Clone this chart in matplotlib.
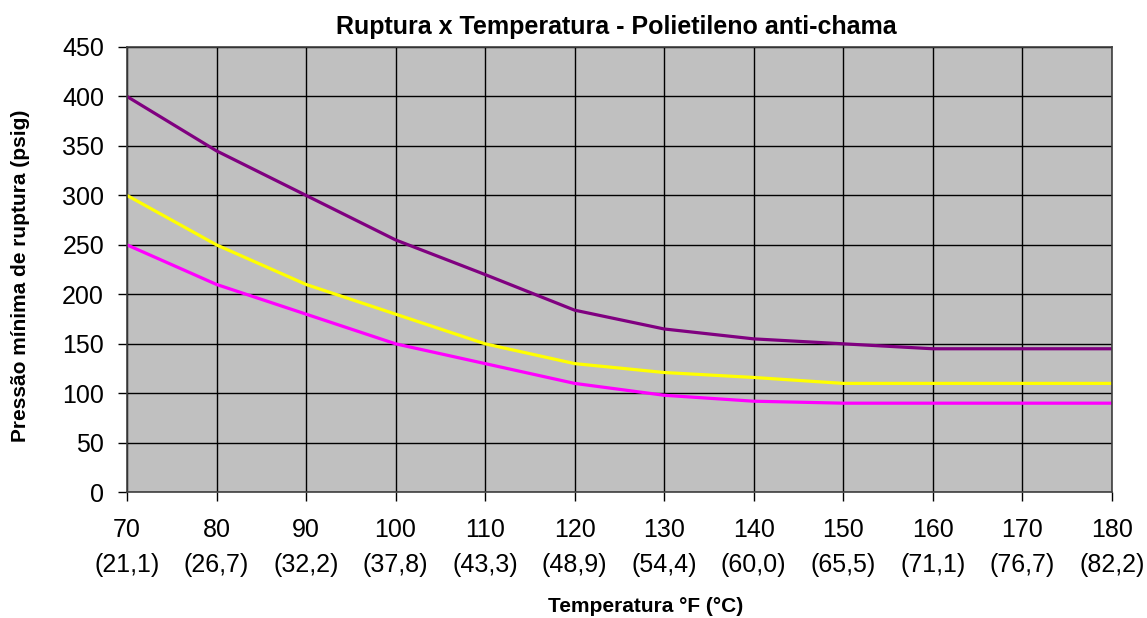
import matplotlib.pyplot as plt

plt.rcParams['font.family'] = ['Liberation Sans', 'DejaVu Sans']

# Temperaturas (°F) e equivalentes em °C
temp_f = [70, 80, 90, 100, 110, 120, 130, 140, 150, 160, 170, 180]
temp_c = ['21,1', '26,7', '32,2', '37,8', '43,3', '48,9', '54,4', '60,0',
          '65,5', '71,1', '76,7', '82,2']

# Pressão mínima de ruptura (psig) para cada série
serie_roxa = [400, 345, 300, 255, 220, 184, 165, 155, 150, 145, 145, 145]
serie_amarela = [300, 250, 210, 180, 150, 130, 121, 116, 110, 110, 110, 110]
serie_magenta = [250, 210, 180, 150, 130, 110, 98, 92, 90, 90, 90, 90]

fig = plt.figure(figsize=(11.47, 6.18), dpi=100)
ax = fig.add_axes([0.1107, 0.2035, 0.8586, 0.7205])
ax.set_facecolor('#C0C0C0')

ax.plot(temp_f, serie_roxa, color='#800080', lw=2.3)
ax.plot(temp_f, serie_amarela, color='#FFFF00', lw=2.3)
ax.plot(temp_f, serie_magenta, color='#FF00FF', lw=2.3)

ax.set_xlim(70, 180)
ax.set_ylim(0, 450)
ax.set_yticks(range(0, 451, 50))
ax.set_xticks(temp_f)
ax.set_xticklabels([f'{f}\n({c})' for f, c in zip(temp_f, temp_c)],
                   linespacing=1.6)

ax.grid(True, color='black', lw=1)
ax.set_axisbelow(True)
for s in ax.spines.values():
    s.set_color('#404040')
    s.set_linewidth(1.2)

ax.tick_params(axis='both', direction='out', length=6.5, width=1,
               labelsize=18, color='black')
ax.tick_params(axis='x', pad=12)
ax.tick_params(axis='y', pad=10)

# Título e rótulos dos eixos
fig.text(0.537, 1 - 27 / 618, 'Ruptura x Temperatura - Polietileno anti-chama',
         fontsize=18, fontweight='bold', ha='center', va='center')
fig.text(21 / 1147, 1 - 276 / 618, 'Pressão mínima de ruptura (psig)',
         fontsize=15, fontweight='bold', rotation=90,
         ha='center', va='center')
fig.text(646 / 1147, 1 - 607 / 618, 'Temperatura °F (°C)',
         fontsize=15, fontweight='bold', ha='center', va='center')

fig.savefig('out.png', dpi=100)
